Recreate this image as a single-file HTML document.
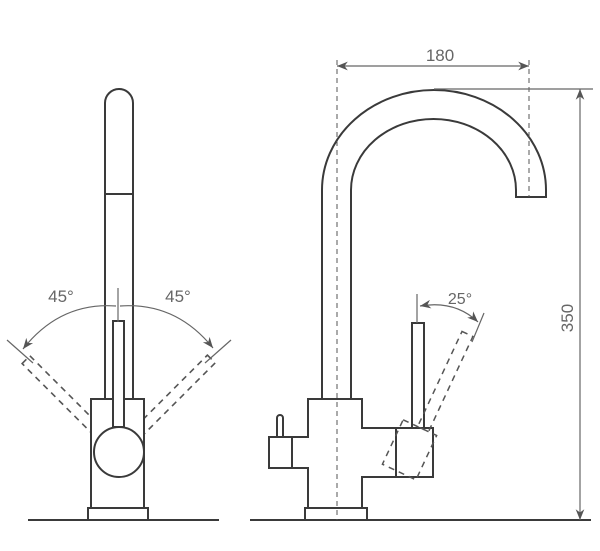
<!DOCTYPE html>
<html><head><style>body{margin:0;background:#fff}svg{display:block}</style></head><body>
<svg width="600" height="551" viewBox="0 0 600 551" xmlns="http://www.w3.org/2000/svg" font-family="Liberation Sans, sans-serif">
<defs>
<marker id="ar" viewBox="0 0 10 10" refX="10" refY="5" markerWidth="9" markerHeight="9" orient="auto-start-reverse"><path d="M0,1 L10,5 L0,9 L3,5 z" fill="#555"/></marker>
</defs>
<g fill="none" stroke="#3a3a3a" stroke-width="2">
<!-- LEFT VIEW -->
<g stroke-dasharray="6,5" stroke-width="1.6" stroke="#555">
<rect x="113" y="321" width="11" height="106" transform="rotate(-45 119 452)"/>
<rect x="113" y="321" width="11" height="106" transform="rotate(45 119 452)"/>
</g>
<path d="M105,399 V103 A14,14 0 0 1 133,103 V399"/>
<line x1="105" y1="194" x2="133" y2="194"/>
<rect x="91" y="399" width="53" height="109" fill="#fff"/>
<rect x="88" y="508" width="60" height="12"/>
<line x1="28" y1="520" x2="219" y2="520"/>
<circle cx="119" cy="452" r="25" fill="#fff"/>
<rect x="113" y="321" width="11" height="106" fill="#fff"/>
</g>
<g stroke="#666" stroke-width="1.2" fill="none">
<line x1="118" y1="288" x2="118" y2="322"/>
<line x1="7" y1="340" x2="33" y2="363"/>
<line x1="231" y1="340" x2="205" y2="363"/>
<path d="M116,306 Q60,302 23,349" marker-end="url(#ar)"/>
<path d="M120,306 Q176,302 213,348" marker-end="url(#ar)"/>
</g>
<text x="61" y="302" font-size="17" fill="#666" text-anchor="middle">45°</text>
<text x="178" y="302" font-size="17" fill="#666" text-anchor="middle">45°</text>

<!-- RIGHT VIEW -->
<g fill="none" stroke="#3a3a3a" stroke-width="2">
<path d="M322,399 V190 A112,100 0 0 1 546,190 V197 H516 V190 A82.5,71 0 0 0 351,190 V399"/>
<path d="M308,399 H362 V428 H433 V477 H362 V508 H308 V468 H292 V437 H308 Z" fill="#fff"/>
<rect x="269" y="437" width="23" height="31"/>
<path d="M277,437 V418 A3,3 0 0 1 283,418 V437"/>
<line x1="396" y1="428" x2="396" y2="477"/>
<rect x="305" y="508" width="62" height="12"/>
<line x1="250" y1="520" x2="591" y2="520"/>
<rect x="412" y="323" width="12" height="105" fill="#fff"/>
<g stroke-dasharray="6,5" stroke-width="1.5" stroke="#555" transform="rotate(25 418 440)">
<rect x="412" y="323" width="12" height="105"/>
<rect x="396" y="428" width="37" height="49"/>
</g>
</g>
<g stroke="#555" stroke-width="1" fill="none" stroke-dasharray="5,4">
<line x1="337" y1="60" x2="337" y2="520"/>
<line x1="529" y1="60" x2="529" y2="197"/>
</g>
<g stroke="#666" stroke-width="1.2" fill="none">
<line x1="337" y1="66" x2="529" y2="66" marker-start="url(#ar)" marker-end="url(#ar)"/>
<line x1="434" y1="89" x2="593" y2="89"/>
<line x1="580" y1="89" x2="580" y2="520" marker-start="url(#ar)" marker-end="url(#ar)"/>
<line x1="417" y1="294" x2="417" y2="323"/>
<line x1="484" y1="313" x2="472" y2="342"/>
<path d="M420,306 Q455,300 478,322" marker-start="url(#ar)" marker-end="url(#ar)"/>
</g>
<text x="440" y="61" font-size="17" fill="#666" text-anchor="middle">180</text>
<text x="460" y="304" font-size="16" fill="#666" text-anchor="middle">25°</text>
<text x="0" y="0" font-size="17" fill="#666" text-anchor="middle" transform="translate(573 318) rotate(-90)">350</text>
</svg>
</body></html>
